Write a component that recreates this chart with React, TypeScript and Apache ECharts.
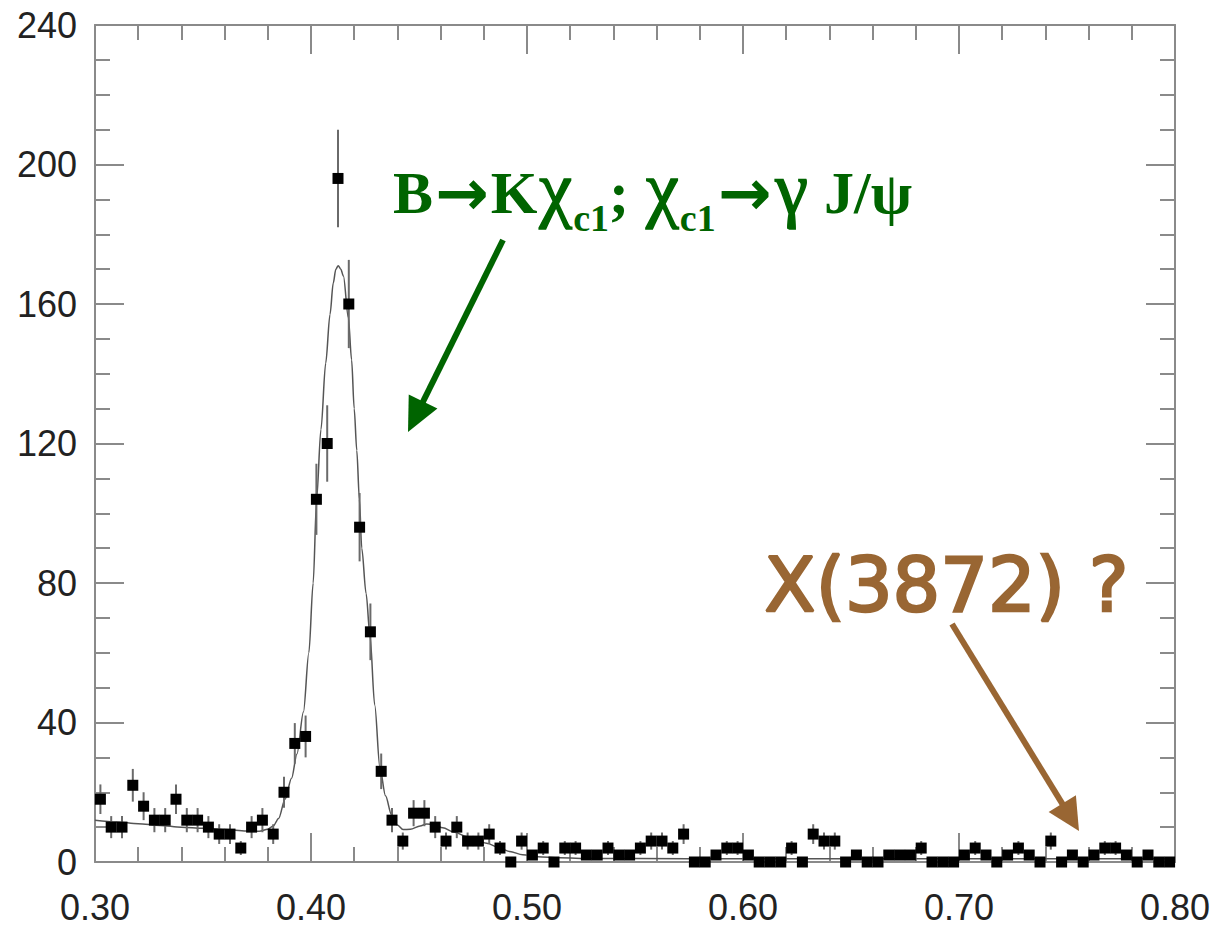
import React, { useEffect, useRef } from "react";
import * as echarts from "echarts";

// Histogram: 100 bins of width 0.005 from 0.30 to 0.80
const BIN_LO = 0.3;
const BIN_W = 0.005;
const counts = [
  18, 10, 10, 22, 16, 12, 12, 18, 12, 12,
  10, 8, 8, 4, 10, 12, 8, 20, 34, 36,
  104, 120, 196, 160, 96, 66, 26, 12, 6, 14,
  14, 10, 6, 10, 6, 6, 8, 4, 0, 6,
  2, 4, 0, 4, 4, 2, 2, 4, 2, 2,
  4, 6, 6, 4, 8, 0, 0, 2, 4, 4,
  2, 0, 0, 0, 4, 0, 8, 6, 6, 0,
  2, 0, 0, 2, 2, 2, 4, 0, 0, 0,
  2, 4, 2, 0, 2, 4, 2, 0, 6, 0,
  2, 0, 2, 4, 4, 2, 0, 2, 0, 0,
];

// Fit curve
const fitX = [
  0.3, 0.31, 0.32, 0.33, 0.34, 0.35, 0.36, 0.37, 0.376, 0.38, 0.3825, 0.385, 0.388, 0.391,
  0.3935, 0.3965, 0.399, 0.401, 0.4026, 0.4046, 0.4068, 0.4088, 0.4103, 0.4115, 0.4126,
  0.4138, 0.415, 0.4173, 0.4188, 0.42, 0.4212, 0.4224, 0.4235, 0.4255, 0.4273, 0.4295,
  0.4319, 0.4345, 0.4373, 0.44, 0.4426, 0.446, 0.4505, 0.4535, 0.457, 0.461, 0.4665,
  0.472, 0.4765, 0.4813, 0.4875, 0.492, 0.498, 0.505, 0.515, 0.53, 0.55, 0.6, 0.65, 0.7,
  0.75, 0.8,
];
const fitY = [
  12, 11.5, 11, 10.5, 10, 9.7, 9.3, 8.9, 8.8, 9.4, 10.3, 12.5, 18, 24,
  31, 43, 60, 80, 104, 124, 143, 157, 166, 170, 171,
  170, 168, 156, 144, 130, 118, 104, 90, 77, 65, 45,
  27, 19, 13.5, 10.6, 9.3, 9.4, 10.3, 10.9, 10.8, 9.8, 8.5,
  7.3, 6.3, 5.4, 4, 3, 2.1, 1.5, 1.2, 1, 1, 0.9, 0.9, 0.9,
  0.9, 0.9,
];

const xTicks = { min: 0.3, max: 0.8, interval: 0.1 };
const yTicks = { min: 0, max: 240, interval: 40 };

const GREEN = "#006400";
const BROWN = "#996633";
const AXIS = "#8a8a8a";

export default function App() {
  const ref = useRef<HTMLDivElement>(null);
  useEffect(() => {
    if (!ref.current) return;
    const chart = echarts.init(ref.current, undefined, { renderer: "svg" });

    const points = counts.map((c, i) => [BIN_LO + BIN_W * (i + 0.5), c, Math.sqrt(c)]);
    const fit = fitX.map((x, i) => [x, fitY[i]]);

    const tickStyle = { color: AXIS, width: 2 };
    const xBase = {
      type: "value",
      ...xTicks,
      axisLine: { show: true, onZero: false, lineStyle: tickStyle },
      axisTick: { show: true, inside: true, length: 29, lineStyle: tickStyle },
      minorTick: { show: true, splitNumber: 5, length: 15, lineStyle: tickStyle },
      splitLine: { show: false },
    };
    const yBase = {
      type: "value",
      ...yTicks,
      axisLine: { show: true, onZero: false, lineStyle: tickStyle },
      axisTick: { show: true, inside: true, length: 29, lineStyle: tickStyle },
      minorTick: { show: true, splitNumber: 4, length: 15, lineStyle: tickStyle },
      splitLine: { show: false },
    };

    const arrowHead = (tip: number[], from: number[], len: number, half: number) => {
      const dx = tip[0] - from[0];
      const dy = tip[1] - from[1];
      const L = Math.hypot(dx, dy);
      const ux = dx / L, uy = dy / L;
      const bx = tip[0] - ux * len, by = tip[1] - uy * len;
      return [
        [tip[0], tip[1]],
        [bx - uy * half, by + ux * half],
        [bx + uy * half, by - ux * half],
      ];
    };
    const gFrom = [503, 240], gTip = [408, 432];
    const bFrom = [952, 624], bTip = [1079, 831];
    const shorten = (from: number[], tip: number[], d: number) => {
      const L = Math.hypot(tip[0] - from[0], tip[1] - from[1]);
      return [tip[0] - ((tip[0] - from[0]) / L) * d, tip[1] - ((tip[1] - from[1]) / L) * d];
    };
    const gEnd = shorten(gFrom, gTip, 25);
    const bEnd = shorten(bFrom, bTip, 25);

    const serif = "Liberation Serif";
    chart.setOption({
      animation: false,
      backgroundColor: "#ffffff",
      grid: { left: 95, right: 43, top: 25, bottom: 65, containLabel: false },
      xAxis: [
        {
          ...xBase,
          position: "bottom",
          axisLabel: {
            formatter: (v: number) => v.toFixed(2),
            fontSize: 36,
            color: "#222",
            fontFamily: "Liberation Sans",
            margin: 27,
          },
        },
        { ...xBase, position: "top", axisLabel: { show: false } },
      ],
      yAxis: [
        {
          ...yBase,
          position: "left",
          axisLabel: {
            fontSize: 36,
            color: "#222",
            fontFamily: "Liberation Sans",
            margin: 18,
          },
        },
        { ...yBase, position: "right", axisLabel: { show: false } },
      ],
      series: [
        {
          type: "line",
          data: fit,
          showSymbol: false,
          symbol: "none",
          smooth: 0.3,
          smoothMonotone: "x",
          lineStyle: { color: "#555", width: 1.5 },
          z: 2,
        },
        {
          type: "custom",
          data: points,
          renderItem: (params: any, api: any) => {
            const x = api.value(0), y = api.value(1), e = api.value(2);
            if (!(e > 0)) return null;
            const a = api.coord([x, y + e]);
            const b = api.coord([x, Math.max(0, y - e)]);
            return {
              type: "line",
              shape: { x1: a[0], y1: a[1], x2: b[0], y2: b[1] },
              style: { stroke: "#6a6a6a", lineWidth: 2 },
            };
          },
          z: 3,
        },
        {
          type: "scatter",
          data: points.map((p) => [p[0], p[1]]),
          symbol: "rect",
          symbolSize: 11,
          itemStyle: { color: "#000", opacity: 1 },
          z: 4,
        },
      ],
      graphic: [
        {
          type: "text",
          left: 393,
          top: 150,
          z: 10,
          style: {
            text: "{m|B}{a|→}{m|K}{c|χ}{s|c1}{m|; }{c|χ}{s|c1}{a|→}{c|γ}{m| J/ψ}",
            rich: {
              m: { fontSize: 60, fontWeight: "bold", fontFamily: serif, fill: GREEN },
              a: {
                fontSize: 64,
                fontWeight: "bold",
                fontFamily: "DejaVu Sans",
                fill: GREEN,
                padding: [0, 2, 0, 2],
              },
              c: {
                fontSize: 74,
                fontFamily: serif,
                fill: GREEN,
                stroke: GREEN,
                lineWidth: 1.5,
                padding: [0, 1, 10, 2],
              },
              s: {
                fontSize: 38,
                fontWeight: "bold",
                fontFamily: serif,
                fill: GREEN,
                padding: [50, 0, 0, 0],
              },
            },
          },
        },
        {
          type: "line",
          z: 10,
          shape: { x1: gFrom[0], y1: gFrom[1], x2: gEnd[0], y2: gEnd[1] },
          style: { stroke: GREEN, lineWidth: 6 },
        },
        {
          type: "polygon",
          z: 10,
          shape: { points: arrowHead(gTip, gFrom, 34, 16) },
          style: { fill: GREEN },
        },
        {
          type: "text",
          left: 763,
          top: 546,
          z: 10,
          style: {
            text: "X(3872) ?",
            fontSize: 75,
            fontFamily: "DejaVu Sans",
            fill: BROWN,
            stroke: BROWN,
            lineWidth: 2.5,
          },
        },
        {
          type: "line",
          z: 10,
          shape: { x1: bFrom[0], y1: bFrom[1], x2: bEnd[0], y2: bEnd[1] },
          style: { stroke: BROWN, lineWidth: 6 },
        },
        {
          type: "polygon",
          z: 10,
          shape: { points: arrowHead(bTip, bFrom, 32, 16) },
          style: { fill: BROWN },
        },
      ],
    });
    return () => chart.dispose();
  }, []);
  return (
    <div
      ref={ref}
      style={{ position: "absolute", left: 0, top: 0, width: 1218, height: 927, background: "#fff" }}
    />
  );
}
